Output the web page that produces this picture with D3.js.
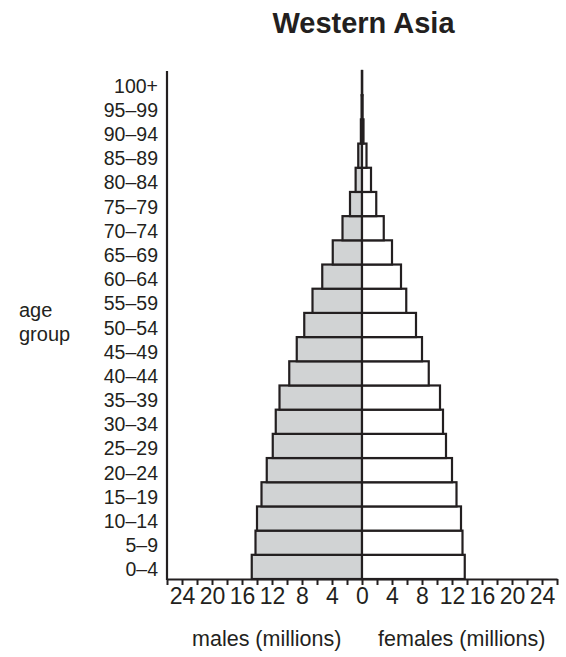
<!DOCTYPE html>
<html>
<head>
<meta charset="utf-8">
<script src="https://cdn.jsdelivr.net/npm/d3@7"></script>
<style>
  html, body { margin: 0; padding: 0; background: #fff; }
  svg { display: block; font-family: "Liberation Sans", Arial, Helvetica, sans-serif; }
</style>
</head>
<body>
<svg id="chart" width="566" height="657"></svg>
<script>
// Data (millions)
const ageGroups = ["0–4","5–9","10–14","15–19","20–24","25–29","30–34","35–39","40–44","45–49",
  "50–54","55–59","60–64","65–69","70–74","75–79","80–84","85–89","90–94","95–99","100+"];
const males   = [14.7,14.2,14.0,13.4,12.7,11.9,11.5,11.0,9.7,8.7,7.7,6.6,5.3,3.9,2.6,1.6,0.85,0.5,0.15,0.05,0.01];
const females = [13.7,13.4,13.2,12.6,12.0,11.2,10.8,10.4,8.9,8.0,7.2,5.9,5.2,4.0,2.9,1.9,1.2,0.6,0.2,0.08,0.02];
const tickValues = d3.range(-26, 27, 2);
const labelValues = [-24,-20,-16,-12,-8,-4,0,4,8,12,16,20,24];

const ink = "#231f20";
const maleFill = "#d1d3d4";

const svg = d3.select("#chart");

const x = d3.scaleLinear().domain([-26, 26]).range([167, 557]);
const y = d3.scaleBand().domain(ageGroups).range([579, 71]).padding(0);

const rows = ageGroups.map((g, i) => ({ g, m: males[i], f: females[i] }));

// Male bars
svg.append("g").selectAll("rect").data(rows).join("rect")
  .attr("x", d => x(-d.m))
  .attr("y", d => y(d.g))
  .attr("width", d => x(0) - x(-d.m))
  .attr("height", y.bandwidth())
  .attr("fill", maleFill)
  .attr("stroke", ink)
  .attr("stroke-width", 2.2);

// Female bars
svg.append("g").selectAll("rect").data(rows).join("rect")
  .attr("x", x(0))
  .attr("y", d => y(d.g))
  .attr("width", d => x(d.f) - x(0))
  .attr("height", y.bandwidth())
  .attr("fill", "#fff")
  .attr("stroke", ink)
  .attr("stroke-width", 2.2);

// X axis
const xAxis = d3.axisBottom(x)
  .tickValues(tickValues)
  .tickSize(6)
  .tickSizeOuter(0)
  .tickFormat(v => labelValues.includes(v) ? String(Math.abs(v)) : "");
const gx = svg.append("g").attr("transform", `translate(0,${y.range()[0]})`).call(xAxis);
gx.select(".domain").attr("stroke", ink).attr("stroke-width", 2);
gx.selectAll(".tick line").attr("stroke", ink).attr("stroke-width", 2);
gx.selectAll(".tick text")
  .attr("fill", ink)
  .attr("font-size", 23)
  .attr("font-family", "Liberation Sans, Arial, sans-serif")
  .attr("y", 9)
  .attr("dy", "0.71em");

// Y axis line
svg.append("line")
  .attr("x1", x(-26)).attr("x2", x(-26))
  .attr("y1", y.range()[1]).attr("y2", y.range()[0] + 1)
  .attr("stroke", ink).attr("stroke-width", 2.2);

// Age labels
svg.append("g").selectAll("text").data(ageGroups).join("text")
  .attr("x", 158)
  .attr("y", d => y(d) + y.bandwidth() / 2 + 9.5)
  .attr("text-anchor", "end")
  .attr("font-size", 19.5)
  .attr("fill", ink)
  .text(d => d);

// Y title
svg.append("text").attr("x", 19).attr("y", 317).attr("font-size", 20).attr("fill", ink).text("age");
svg.append("text").attr("x", 19).attr("y", 341).attr("font-size", 20).attr("fill", ink).text("group");

// X titles
svg.append("text").attr("x", 266.7).attr("y", 646).attr("text-anchor", "middle")
  .attr("font-size", 21.5).attr("fill", ink).text("males (millions)");
svg.append("text").attr("x", 461.7).attr("y", 646).attr("text-anchor", "middle")
  .attr("font-size", 21.5).attr("fill", ink).text("females (millions)");

// Title
svg.append("text").attr("x", 363.5).attr("y", 32.5).attr("text-anchor", "middle")
  .attr("font-size", 29).attr("font-weight", "bold").attr("fill", ink).text("Western Asia");
</script>
</body>
</html>
